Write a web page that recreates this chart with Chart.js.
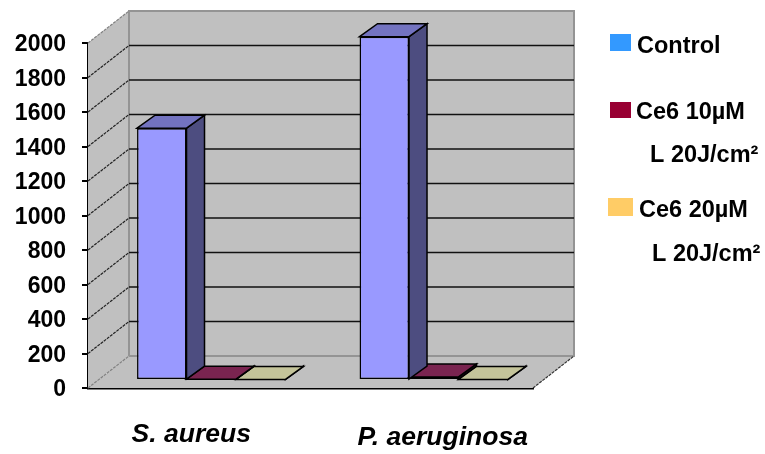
<!DOCTYPE html>
<html>
<head>
<meta charset="utf-8">
<script src="https://cdn.jsdelivr.net/npm/chart.js@4"></script>
<style>
  html, body { margin: 0; padding: 0; background: #fff; }
  #wrap { width: 765px; height: 454px; }
</style>
</head>
<body>
<div id="wrap"><canvas id="chart" width="765" height="454"></canvas></div>
<script>
const categories = ['S. aureus', 'P. aeruginosa'];
const seriesNames = ['Control', 'Ce6 10µM', 'Ce6 20µM'];
const control = [1460, 1990];
const ce6Low = [5, 18];
const ce6High = [3, 3];
const yTicks = [0, 200, 400, 600, 800, 1000, 1200, 1400, 1600, 1800, 2000];

// faces: front, top, side
const barFaces = [
  ['#9999ff', '#7373c0', '#4d4d80'],
  ['#7a2450', '#7a2450', '#4d1a33'],
  ['#c4c49a', '#c4c49a', '#8a8a66']
];
const legendItems = [
  { color: '#3399ff', box: [610, 34, 21, 17], lines: [[seriesNames[0], 637, 53]] },
  { color: '#990033', box: [610, 102, 21, 16], lines: [[seriesNames[1], 636, 119], ['L 20J/cm²', 650, 162]] },
  { color: '#ffcc66', box: [608, 198, 25, 18], lines: [[seriesNames[2], 639, 217], ['L 20J/cm²', 652, 261]] }
];

const WALL = { dx: 41, dy: -32 };   // front plane to back wall
const BAR_SHIFT = { dx: 12, dy: -8 };  // front plane to bar plane
const BAR_DEPTH = { dx: 18, dy: -13 };
const FONT_FAMILY = '"Liberation Sans", Arial, sans-serif';

function poly(ctx, pts, fill, stroke, lw) {
  ctx.beginPath();
  pts.forEach((p, i) => i ? ctx.lineTo(p[0], p[1]) : ctx.moveTo(p[0], p[1]));
  ctx.closePath();
  if (fill) { ctx.fillStyle = fill; ctx.fill(); }
  if (stroke) { ctx.strokeStyle = stroke; ctx.lineWidth = lw || 1; ctx.stroke(); }
}

const box3d = {
  id: 'box3d',
  beforeDatasetsDraw(chart) {
    const { ctx, chartArea: a, scales: { y } } = chart;
    const l = a.left, r = a.right, b = y.getPixelForValue(0), t = y.getPixelForValue(2000);
    ctx.save();
    // back wall, left wall, floor
    poly(ctx, [[l + WALL.dx, t + WALL.dy], [r + WALL.dx, t + WALL.dy], [r + WALL.dx, b + WALL.dy], [l + WALL.dx, b + WALL.dy]], '#c0c0c0', '#949494', 2);
    poly(ctx, [[l, t], [l + WALL.dx, t + WALL.dy], [l + WALL.dx, b + WALL.dy], [l, b]], '#c0c0c0', null);
    poly(ctx, [[l, b], [r, b], [r + WALL.dx, b + WALL.dy], [l + WALL.dx, b + WALL.dy]], '#c0c0c0', null);
    ctx.strokeStyle = '#949494';
    ctx.lineWidth = 2;
    ctx.beginPath();
    ctx.moveTo(l + WALL.dx, b + WALL.dy);
    ctx.lineTo(r + WALL.dx, b + WALL.dy);
    ctx.moveTo(l + WALL.dx, t + WALL.dy);
    ctx.lineTo(l + WALL.dx, b + WALL.dy);
    ctx.stroke();
    // gridlines on back wall and left wall
    yTicks.forEach(v => {
      const py = y.getPixelForValue(v);
      const edge = v === 0 || v === 2000;
      ctx.setLineDash([3, 1]);
      ctx.strokeStyle = edge ? '#808080' : '#222';
      ctx.lineWidth = 1.2;
      ctx.beginPath();
      ctx.moveTo(l, py);
      ctx.lineTo(l + WALL.dx, py + WALL.dy);
      ctx.stroke();
      ctx.setLineDash([]);
      if (!edge) {
        ctx.strokeStyle = '#111';
        ctx.lineWidth = 1.6;
        ctx.beginPath();
        ctx.moveTo(l + WALL.dx, py + WALL.dy);
        ctx.lineTo(r + WALL.dx, py + WALL.dy);
        ctx.stroke();
      }
    });
    // right edge of the floor
    ctx.setLineDash([3, 1]);
    ctx.strokeStyle = '#333';
    ctx.lineWidth = 1.2;
    ctx.beginPath();
    ctx.moveTo(r, b);
    ctx.lineTo(r + WALL.dx, b + WALL.dy);
    ctx.stroke();
    ctx.restore();
  },
  beforeDatasetDraw(chart, args) {
    const { ctx } = chart;
    ctx.save();
    ctx.translate(BAR_SHIFT.dx, BAR_SHIFT.dy);
    // top and side faces go under the front face that the library draws
    const faces = barFaces[args.index];
    args.meta.data.forEach(bar => {
      const w = bar.width / 2;
      const x0 = bar.x - w, x1 = bar.x + w;
      const d = BAR_DEPTH;
      poly(ctx, [[x1, bar.y], [x1 + d.dx, bar.y + d.dy], [x1 + d.dx, bar.base + d.dy], [x1, bar.base]], faces[2], '#000', 1.5);
      poly(ctx, [[x0, bar.y], [x0 + d.dx, bar.y + d.dy], [x1 + d.dx, bar.y + d.dy], [x1, bar.y]], faces[1], '#000', 1.5);
    });
  },
  afterDatasetDraw(chart) {
    chart.ctx.restore();
  },
  afterDraw(chart) {
    const { ctx, scales: { x } } = chart;
    ctx.save();
    ctx.fillStyle = '#000';
    ctx.textBaseline = 'alphabetic';
    // category labels sit off their ticks in the reference
    ctx.textAlign = 'center';
    ctx.font = 'italic bold 26.5px ' + FONT_FAMILY;
    const labelNudge = [-8, 21];
    const labelY = [442, 445];
    categories.forEach((c, i) => ctx.fillText(c, x.getPixelForTick(i) + labelNudge[i], labelY[i]));
    // legend
    ctx.textAlign = 'left';
    ctx.font = 'bold 23.5px ' + FONT_FAMILY;
    legendItems.forEach(item => {
      ctx.fillStyle = item.color;
      ctx.fillRect(...item.box);
      ctx.fillStyle = '#000';
      item.lines.forEach(([txt, tx, ty]) => ctx.fillText(txt, tx, ty));
    });
    ctx.restore();
  }
};

new Chart(document.getElementById('chart'), {
  type: 'bar',
  data: {
    labels: categories,
    datasets: [control, ce6Low, ce6High].map((values, i) => ({
      label: seriesNames[i],
      data: values,
      backgroundColor: barFaces[i][0],
      borderColor: '#000',
      borderWidth: 1.5,
      borderSkipped: false,
      barPercentage: 1,
      categoryPercentage: 0.667
    }))
  },
  options: {
    responsive: false,
    animation: false,
    layout: { padding: { top: 43, bottom: 66, right: 232, left: 0 } },
    plugins: { legend: { display: false }, tooltip: { enabled: false } },
    scales: {
      x: {
        afterFit(scale) { scale.height = 0; },
        ticks: { display: false },
        grid: { display: false },
        border: { color: '#000', width: 2.5 }
      },
      y: {
        min: 0,
        max: 2000,
        afterFit(scale) { scale.width = 88; },
        ticks: {
          stepSize: 200,
          callback: v => String(v),
          color: '#000',
          padding: 16,
          labelOffset: 2,
          font: { family: FONT_FAMILY, size: 23, weight: 'bold' }
        },
        grid: { drawOnChartArea: false, color: '#000', lineWidth: 2, tickLength: 6 },
        border: { color: '#000', width: 2.5 }
      }
    }
  },
  plugins: [box3d]
});
</script>
</body>
</html>
